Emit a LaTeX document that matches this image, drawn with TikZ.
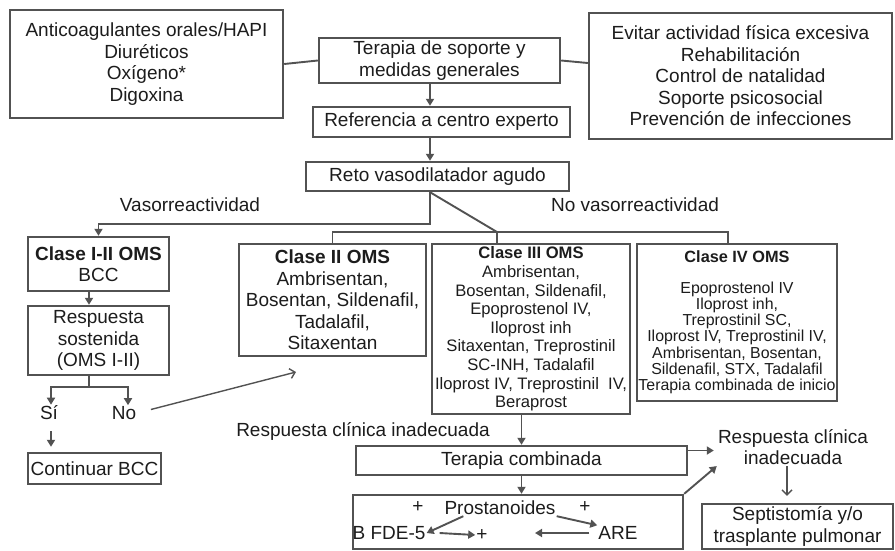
\documentclass[tikz,border=0pt]{standalone}
\usepackage{fontspec}
\setmainfont{Liberation Sans}
\usetikzlibrary{arrows.meta, positioning}
\definecolor{boxgray}{RGB}{82,82,82}
\definecolor{inkgray}{RGB}{28,28,28}

\begin{document}
\begin{tikzpicture}[x=1pt, y=-1pt,
  box/.style={draw=boxgray, line width=2.4pt, inner sep=0pt, align=center, text=inkgray},
  big/.style={font=\fontsize{19}{21.5}\selectfont},
  mid/.style={font=\fontsize{16.6}{18.6}\selectfont},
  small/.style={font=\fontsize{15.9}{16.3}\selectfont},
  lbl/.style={text=inkgray, inner sep=1pt, big},
  line/.style={draw=boxgray, line width=1.9pt},
  arr/.style={line, -{Triangle[length=7pt,width=8pt]}},
  barb/.style={draw=boxgray, line width=1.4pt, -{Straight Barb[length=5pt,width=10pt]}}
]
  \useasboundingbox (0,0) rectangle (895,550);

  % Top row
  \node[box, big, minimum width=273pt, minimum height=108pt] (anticoag) at (146.5,64) {Anticoagulantes orales/HAPI\\Diuréticos\\Oxígeno*\\Digoxina};
  \node[box, big, minimum width=241pt, minimum height=45pt] (soporte) at (439.5,60.5) {Terapia de soporte y\\medidas generales};
  \node[box, big, minimum width=303pt, minimum height=126pt] (generales) at (740.5,76) {Evitar actividad física excesiva\\Rehabilitación\\Control de natalidad\\Soporte psicosocial\\Prevención de infecciones};
  \draw[line] (anticoag.east) -- (soporte.west);
  \draw[line] (soporte.east) -- ([yshift=13pt]generales.west);

  % Referral and vasoreactivity test
  \node[box, big, minimum width=257pt, minimum height=30pt] (experto) at (441.5,122) {Referencia a centro experto};
  \node[box, big, minimum width=263pt, minimum height=29pt] (reto) at (437.5,176.5) {Reto vasodilatador agudo};
  \coordinate (spine) at (430,0);
  \draw[arr] (soporte.south -| spine) -- (experto.north -| spine);
  \draw[arr] (experto.south -| spine) -- (reto.north -| spine);

  % Branch labels
  \node[lbl] (vaso) at (190,205) {Vasorreactividad};
  \node[lbl] (novaso) at (635,205) {No vasorreactividad};

  % Vasoreactive branch
  \node[box, big, minimum width=141pt, minimum height=54pt] (clase12) at (98.5,264) {\textbf{Clase I-II OMS}\\BCC};
  \node[box, big, minimum width=141pt, minimum height=69pt] (sostenida) at (98.5,340.5) {Respuesta\\sostenida\\(OMS I-II)};
  \draw[arr] (reto.south -| spine) -- ++(0,32) -| (clase12.north);
  \draw[arr] (clase12.south -| 89,0) -- (sostenida.north -| 89,0);

  \coordinate (rsplit) at (89,387);
  \node[lbl] (si) at (49,413) {Sí};
  \node[lbl] (no) at (124,413) {No};
  \draw[line] (sostenida.south -| rsplit) -- (rsplit);
  \draw[arr] (rsplit) -| ([xshift=2pt]si.north);
  \draw[arr] (rsplit) -| ([xshift=4pt]no.north);
  \node[box, big, minimum width=133pt, minimum height=31pt] (continuar) at (94.5,468.5) {Continuar BCC};
  \draw[arr, shorten <=10pt, shorten >=5pt] ([xshift=2pt]si.south) -- ([xshift=2pt]continuar.north -| si.south);
  \coordinate (noend) at (296,372);
  \draw[barb, shorten <=14pt] (no.east) -- (noend);

  % Non-vasoreactive branch
  \node[box, big, minimum width=187pt, minimum height=112pt] (clase2) at (332.5,300) {\textbf{Clase II OMS}\\Ambrisentan,\\Bosentan, Sildenafil,\\Tadalafil,\\Sitaxentan};
  \node[box, mid, minimum width=198pt, minimum height=170pt] (clase3) at (531,329) {\textbf{Clase III OMS}\\Ambrisentan,\\Bosentan, Sildenafil,\\Epoprostenol IV,\\Iloprost inh\\Sitaxentan, Treprostinil\\SC-INH, Tadalafil\\Iloprost IV, Treprostinil\ \ IV,\\Beraprost};
  \node[box, small, minimum width=200pt, minimum height=157pt] (clase4) at (737,322.5) {\textbf{\fontsize{16.3}{16.3}\selectfont Clase IV OMS}\\[14pt]Epoprostenol IV\\Iloprost inh,\\Treprostinil SC,\\Iloprost IV, Treprostinil IV,\\Ambrisentan, Bosentan,\\Sildenafil, STX, Tadalafil\\Terapia combinada de inicio};
  \coordinate (nvjoin) at (497,232);
  \coordinate (c4stub) at (728,232);
  \draw[line] (reto.south -| spine) -- (nvjoin);
  \draw[line] (clase2.north) |- (c4stub) -- (clase4.north -| c4stub);
  \draw[line] (nvjoin) -- (clase3.north -| nvjoin);

  % Combined therapy
  \node[lbl] (inadecuada) at (363,431) {Respuesta clínica inadecuada};
  \node[box, big, minimum width=331pt, minimum height=29pt] (combinada) at (521.5,460.5) {Terapia combinada};
  \draw[arr] (clase3.south -| combinada) -- (combinada.north);
  \node[lbl, align=center] (respclin) at (793,447) {Respuesta clínica\\inadecuada};
  \draw[arr, shorten >=3pt] ([yshift=10pt]combinada.east) -- ([yshift=10pt]combinada.east -| respclin.west);

  \node[box, minimum width=330pt, minimum height=54pt] (prostbox) at (518,522) {};
  \draw[arr] (combinada.south) -- (prostbox.north -| combinada.south);
  \draw[arr] (prostbox.north east) -- (respclin.south west);

  % Drug classes inside
  \node[lbl] (plusa) at (418,507) {+};
  \node[lbl] (prostanoides) at (500,508) {Prostanoides};
  \node[lbl] (plusb) at (585,507) {+};
  \node[lbl] (bfde) at (389,533) {B FDE-5};
  \node[lbl] (are) at (618,533) {ARE};
  \node[lbl] (plusc) at (482,535) {+};
  \coordinate (areend) at (535,533);
  \draw[arr] ([xshift=20pt]prostanoides.south west) -- (bfde.east);
  \draw[arr] (prostanoides.south east) -- (are.north west);
  \draw[arr] ([xshift=13pt]bfde.east) -- (plusc.west);
  \draw[arr] ([xshift=-8pt]are.west) -- (areend);

  % Last resort
  \node[box, big, minimum width=191pt, minimum height=45pt] (septo) at (797.5,526.5) {Septistomía y/o\\trasplante pulmonar};
  \draw[barb, shorten >=7pt] (respclin.south -| 787,0) -- (septo.north -| 787,0);
\end{tikzpicture}
\end{document}
